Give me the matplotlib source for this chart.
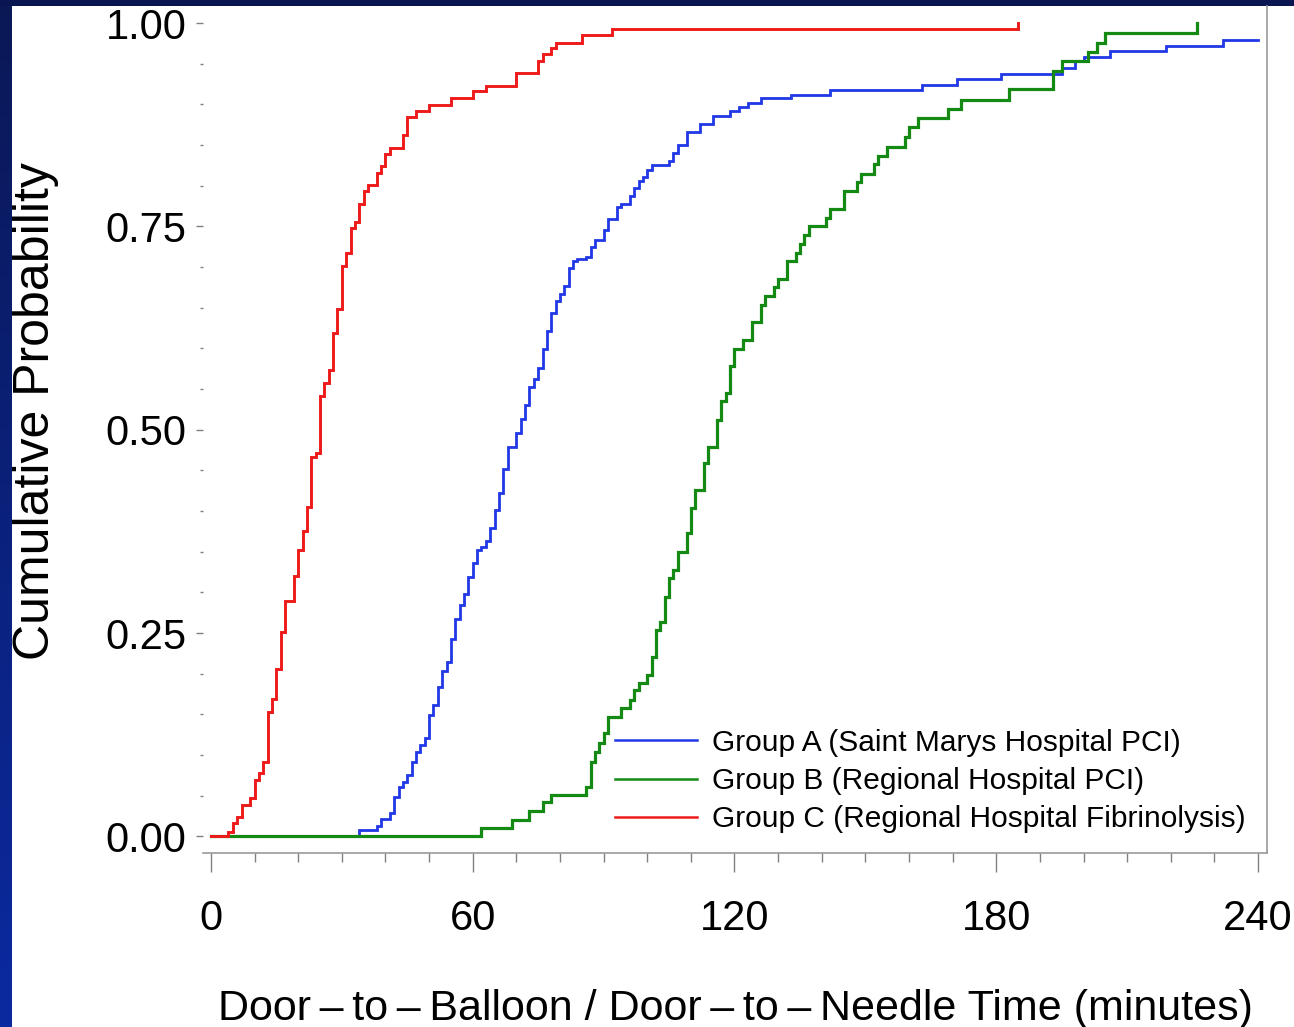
import matplotlib
matplotlib.use("Agg")
import matplotlib.pyplot as plt
import numpy as np
from matplotlib.lines import Line2D
from matplotlib.colors import LinearSegmentedColormap

plt.rcParams["font.family"] = ["Liberation Sans", "DejaVu Sans"]

# Group A: Saint Marys Hospital PCI (door-to-balloon, minutes / cumulative share)
group_a_minutes = [34, 38, 39, 41, 42, 43, 44, 45, 46, 47, 48, 49, 50, 51, 52, 53,
                   54, 55, 56, 57, 58, 59, 60, 61, 62, 63, 64, 65, 66, 67, 68, 70,
                   71, 72, 73, 74, 75, 76, 77, 78, 79, 80, 81, 82, 83, 84, 86, 87,
                   88, 90, 91, 93, 94, 96, 97, 98, 99, 100, 101, 105, 106, 107, 109,
                   112, 115, 119, 121, 123, 126, 133, 142, 163, 171, 181, 195, 198,
                   200, 206, 219, 232]
group_a_cum = [0.008, 0.013, 0.021, 0.029, 0.048, 0.061, 0.067, 0.076, 0.092, 0.104,
               0.113, 0.121, 0.149, 0.162, 0.184, 0.204, 0.214, 0.243, 0.268, 0.285,
               0.298, 0.319, 0.336, 0.352, 0.356, 0.363, 0.379, 0.401, 0.422, 0.452,
               0.479, 0.496, 0.513, 0.531, 0.553, 0.563, 0.576, 0.599, 0.622, 0.644,
               0.658, 0.667, 0.677, 0.699, 0.708, 0.710, 0.713, 0.725, 0.733, 0.746,
               0.759, 0.774, 0.778, 0.787, 0.797, 0.806, 0.811, 0.820, 0.826, 0.830,
               0.840, 0.850, 0.866, 0.876, 0.886, 0.892, 0.897, 0.902, 0.908, 0.912,
               0.918, 0.924, 0.931, 0.938, 0.945, 0.953, 0.959, 0.966, 0.972, 0.979]

# Group B: Regional Hospital PCI (transfer, door-to-balloon)
group_b_minutes = [62, 69, 73, 76, 78, 86, 87, 88, 89, 90, 91, 94, 96, 97, 98, 100,
                   101, 102, 103, 104, 105, 106, 107, 109, 110, 111, 113, 114, 116,
                   117, 118, 119, 120, 122, 124, 126, 127, 129, 130, 132, 134, 135,
                   136, 137, 141, 142, 145, 148, 149, 152, 153, 155, 159, 160, 162,
                   169, 172, 183, 193, 195, 201, 203, 205, 226]
group_b_cum = [0.010, 0.020, 0.031, 0.042, 0.051, 0.061, 0.092, 0.104, 0.115, 0.127,
               0.147, 0.158, 0.168, 0.180, 0.189, 0.199, 0.221, 0.254, 0.264, 0.295,
               0.318, 0.328, 0.350, 0.373, 0.404, 0.426, 0.459, 0.479, 0.512, 0.535,
               0.545, 0.578, 0.599, 0.611, 0.632, 0.654, 0.665, 0.675, 0.686, 0.708,
               0.718, 0.729, 0.740, 0.751, 0.761, 0.772, 0.794, 0.805, 0.815, 0.827,
               0.837, 0.848, 0.860, 0.872, 0.884, 0.895, 0.906, 0.919, 0.941, 0.953,
               0.964, 0.976, 0.988, 1.000]

# Group C: Regional Hospital fibrinolysis (door-to-needle)
group_c_minutes = [4, 5, 6, 7, 9, 10, 11, 12, 13, 14, 15, 16, 17, 19, 20, 21, 22, 23,
                   24, 25, 26, 27, 28, 29, 30, 31, 32, 33, 34, 35, 36, 38, 39, 40, 41,
                   44, 45, 47, 50, 55, 60, 63, 70, 75, 76, 78, 79, 85, 92, 185]
group_c_cum = [0.006, 0.016, 0.024, 0.039, 0.047, 0.069, 0.078, 0.092, 0.153, 0.169,
               0.206, 0.252, 0.290, 0.320, 0.352, 0.375, 0.405, 0.466, 0.472, 0.542,
               0.557, 0.573, 0.619, 0.648, 0.702, 0.717, 0.748, 0.756, 0.778, 0.794,
               0.801, 0.816, 0.824, 0.839, 0.847, 0.863, 0.885, 0.892, 0.899, 0.908,
               0.916, 0.923, 0.939, 0.954, 0.962, 0.969, 0.976, 0.985, 0.993, 1.000]

labels = ["Group A (Saint Marys Hospital PCI)",
          "Group B (Regional Hospital PCI)",
          "Group C (Regional Hospital Fibrinolysis)"]
colors = ["#2038e6", "#148a14", "#ee1a1a"]
x_max = 240

W, H = 1294, 1027
fig = plt.figure(figsize=(W / 100, H / 100), dpi=100)
fig.patch.set_facecolor("white")

# slide frame: dark band on top, blue gradient strip on the left
navy = LinearSegmentedColormap.from_list("navy", ["#0a1856", "#0a2aa0"])
strip = fig.add_axes([0, 0, 12 / W, 1])
strip.imshow(np.linspace(0, 1, 256).reshape(-1, 1), cmap=navy, aspect="auto")
strip.set_axis_off()
band = fig.add_axes([0, 1 - 6 / H, 1, 6 / H])
band.set_facecolor("#0a1652")
band.set_xticks([])
band.set_yticks([])
for s in band.spines.values():
    s.set_visible(False)

ax = fig.add_axes([203 / W, (H - 853) / H, 1064 / W, 847 / H])


def step_curve(minutes, cum, extend_to=None):
    xs = [0] + list(minutes)
    ys = [0.0] + list(cum)
    if extend_to is not None:
        xs.append(extend_to)
        ys.append(ys[-1])
    return xs, ys


# group A is still climbing at the end of follow-up, so carry it to the axis end
curves = [step_curve(group_a_minutes, group_a_cum, x_max),
          step_curve(group_b_minutes, group_b_cum),
          step_curve(group_c_minutes, group_c_cum)]
widths = [2.0, 2.3, 2.1]
for (xs, ys), c, lw, z in zip(curves, colors, widths, [2, 3, 4]):
    ax.step(xs, ys, where="post", color=c, lw=lw, zorder=z, solid_joinstyle="miter")

ax.set_xlim(-1.83, 242.06)
ax.set_ylim(-0.0203, 1.0211)

for side in ["left", "top"]:
    ax.spines[side].set_visible(False)
for side in ["bottom", "right"]:
    ax.spines[side].set_color("#9a9a9a")
    ax.spines[side].set_linewidth(1.2)

ax.set_xticks([0, 60, 120, 180, 240])
ax.set_xticks([m for m in range(10, 240, 10) if m % 60], minor=True)
ax.set_yticks([0, 0.25, 0.5, 0.75, 1.0])
ax.set_yticklabels(["0.00", "0.25", "0.50", "0.75", "1.00"])
ax.set_yticks([v / 20 for v in range(1, 20) if v % 5], minor=True)

ax.tick_params(axis="x", which="major", length=14, width=1, color="#808080",
               labelsize=30, pad=19)
ax.tick_params(axis="x", which="minor", length=6.5, width=1, color="#808080")
ax.tick_params(axis="y", which="major", length=5, width=1, color="#808080",
               labelsize=30, pad=7)
ax.tick_params(axis="y", which="minor", length=2.5, width=1, color="#808080")

fig.text(735 / W, (H - 1020) / H,
         "Door\u2009\u2013\u2009to\u2009\u2013\u2009Balloon / "
         "Door\u2009\u2013\u2009to\u2009\u2013\u2009Needle Time (minutes)",
         ha="center", va="baseline", fontsize=31)
fig.text(36 / W, 1 - 411 / H, "Cumulative Probability", rotation=90,
         ha="center", va="center", fontsize=36)

handles = [Line2D([], [], color=c, lw=1.8) for c in colors]
ax.legend(handles, labels, loc="center right",
          bbox_to_anchor=(1246 / W, 1 - 781 / H), bbox_transform=fig.transFigure,
          frameon=False, fontsize=21.5, handlelength=2.75, handletextpad=0.52,
          labelspacing=0.35, borderpad=0, borderaxespad=0)

fig.savefig("out.png", dpi=100, facecolor="white")
